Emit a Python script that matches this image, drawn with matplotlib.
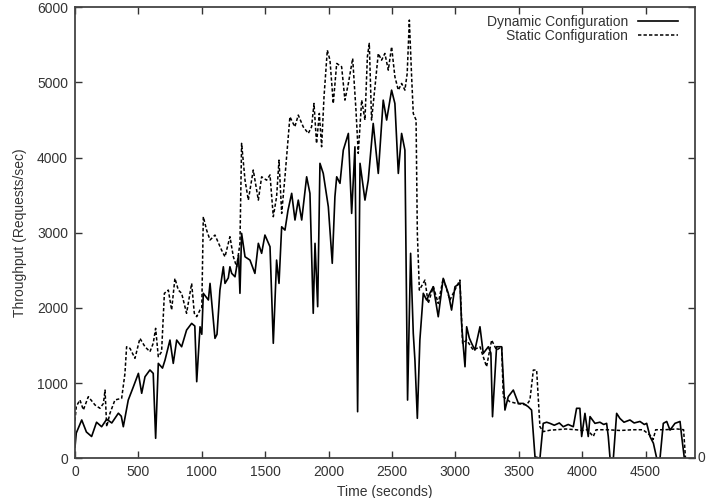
import matplotlib
matplotlib.use('Agg')
from matplotlib import pyplot as plt

plt.rcParams['font.family'] = ['Liberation Sans', 'DejaVu Sans']

# dynamic configuration (time s, requests/sec)
dyn_t = [0, 10, 53, 90, 131, 170, 210, 250, 290, 342, 365, 381, 420, 460, 500, 526, 552,
         591, 617, 636, 657, 690, 710, 749, 775, 802, 841, 880, 920, 945, 960, 986, 1000,
         1012, 1052, 1065, 1104, 1120, 1143, 1170, 1183, 1209, 1222, 1236, 1262, 1290, 1301,
         1314, 1341, 1380, 1419, 1446, 1472, 1498, 1538, 1564, 1590, 1609, 1630, 1656, 1680,
         1709, 1735, 1761, 1788, 1827, 1853, 1879, 1893, 1914, 1932, 1958, 1998, 2029, 2050,
         2064, 2090, 2116, 2156, 2182, 2208, 2229, 2248, 2287, 2313, 2352, 2392, 2431, 2458,
         2497, 2523, 2550, 2576, 2602, 2623, 2647, 2668, 2681, 2700, 2720, 2747, 2773, 2800,
         2826, 2865, 2904, 2944, 2970, 2997, 3036, 3049, 3062, 3076, 3089, 3110, 3128, 3154,
         3194, 3220, 3260, 3280, 3293, 3325, 3365, 3391, 3417, 3457, 3497, 3536, 3575, 3601,
         3628, 3667, 3693, 3720, 3746, 3780, 3820, 3851, 3890, 3930, 3956, 3982, 3996, 4022,
         4048, 4062, 4101, 4140, 4170, 4193, 4206, 4220, 4246, 4272, 4298, 4330, 4377, 4410,
         4456, 4490, 4509, 4535, 4562, 4588, 4614, 4640, 4667, 4693, 4732, 4772, 4785, 4806]
dyn_v = [150, 336, 510, 350, 290, 480, 420, 520, 470, 600, 560, 420, 775, 950, 1130, 865, 1085,
         1175, 1130, 266, 1263, 1200, 1307, 1573, 1263, 1573, 1484, 1706, 1795, 1760, 1019, 1750, 1650,
         2195, 2106, 2327, 1596, 1650, 2238, 2548, 2327, 2400, 2548, 2460, 2415, 2700, 2195,
         2993, 2681, 2637, 2460, 2860, 2727, 2970, 2815, 1530, 2637, 2327, 3080, 3036, 3300,
         3525, 3170, 3435, 3170, 3745, 3525, 1929, 2860, 2017, 3924, 3790, 3346, 2594, 3480,
         3745, 3658, 4100, 4322, 3258, 4144, 620, 3924, 3435, 3700, 4455, 3790, 4765, 4500,
         4898, 4720, 3790, 4322, 4100, 775, 2727, 1662, 1307, 532, 1573, 2195, 2106, 2200,
         2283, 1883, 2394, 2195, 1972, 2283, 2327, 1796, 1500, 1218, 1750, 1600, 1530, 1440,
         1750, 1396, 1484, 1400, 553, 1484, 1484, 642, 820, 908, 730, 730, 686, 642,
         20, 0, 465, 480, 465, 440, 470, 420, 450, 420, 665, 665, 290, 598,
         290, 555, 465, 480, 450, 465, 290, 0, 0, 598, 530, 480, 510, 470,
         490, 450, 465, 290, 200, 0, 0, 465, 490, 375, 465, 490, 290, 0]

# static configuration
sta_t = [0, 10, 39, 66, 105, 158, 197, 224, 237, 250, 276, 315, 368, 394, 407, 434, 473,
         512, 552, 591, 617, 636, 657, 683, 705, 736, 762, 788, 815, 841, 880, 920, 941,
         960, 986, 1000, 1012, 1038, 1065, 1104, 1156, 1183, 1222, 1249, 1275, 1301, 1314,
         1341, 1367, 1406, 1446, 1472, 1511, 1538, 1564, 1590, 1609, 1630, 1656, 1695, 1734,
         1761, 1800, 1840, 1866, 1885, 1905, 1927, 1945, 1964, 1990, 2011, 2037, 2064, 2103,
         2129, 2156, 2190, 2216, 2234, 2261, 2287, 2306, 2321, 2339, 2366, 2392, 2418, 2444,
         2471, 2497, 2523, 2550, 2576, 2602, 2620, 2637, 2655, 2668, 2690, 2700, 2716, 2760,
         2786, 2826, 2865, 2904, 2957, 3009, 3036, 3057, 3089, 3141, 3194, 3246, 3286, 3325,
         3365, 3378, 3430, 3483, 3562, 3588, 3615, 3641, 3667, 3693, 3750, 3800, 3870, 3950,
         4000, 4040, 4088, 4110, 4200, 4300, 4400, 4480, 4540, 4560, 4580, 4650, 4750, 4800,
         4815]
sta_v = [500, 690, 776, 643, 820, 709, 665, 730, 908, 420, 600, 776, 798, 1130, 1484, 1462, 1330,
         1596, 1484, 1418, 1530, 1729, 1352, 1418, 2195, 2238, 1973, 2394, 2238, 2195, 1929, 2327, 1929,
         1884, 1973, 2000, 3214, 3036, 2904, 2970, 2770, 2681, 2948, 2681, 2547, 2860, 4190,
         3700, 3435, 3835, 3435, 3745, 3700, 3770, 3214, 3480, 3967, 3258, 3745, 4543, 4410,
         4566, 4410, 4322, 4410, 4721, 4189, 4588, 4145, 4810, 5430, 5297, 4720, 5253, 5209,
         4765, 4987, 5320, 4632, 4057, 4765, 4500, 5342, 5520, 4500, 4942, 5386, 5297, 5386,
         5164, 5475, 5076, 4898, 4987, 4898, 5120, 5830, 5076, 4588, 4500, 3000, 2238, 2371,
         2060, 2283, 2060, 2394, 2106, 2283, 2371, 1530, 1573, 1440, 1484, 1218, 1573, 1440,
         1484, 820, 753, 730, 710, 775, 1174, 1174, 420, 355, 375, 380, 390, 380,
         370, 380, 290, 380, 380, 370, 380, 380, 300, 250, 380, 380, 390, 380,
         0]

yticks = [0, 1000, 2000, 3000, 4000, 5000, 6000]
xticks = [0, 500, 1000, 1500, 2000, 2500, 3000, 3500, 4000, 4500]

fig = plt.figure(figsize=(7.06, 4.98), dpi=100)
ax = fig.add_axes([75 / 706, 1 - 458.3 / 498, 620 / 706, 451 / 498])

ax.plot(dyn_t, dyn_v, color='black', lw=1.2, label='Dynamic Configuration')
ax.plot(sta_t, sta_v, color='black', lw=1.1, dashes=(2.2, 1.4), label='Static Configuration')

ax.set_xlim(0, 4890)
ax.set_ylim(0, 6000)
ax.set_xticks(xticks)
ax.set_yticks(yticks)
ax.tick_params(direction='in', length=5, width=1, top=True, right=True,
               labelsize=10, colors='#333333', pad=5)
for s in ax.spines.values():
    s.set_linewidth(1.3)
    s.set_color('#444444')

ax.set_xlabel('Time (seconds)', fontsize=10, color='#333333', labelpad=4)
ax.set_ylabel('Throughput (Requests/sec)', fontsize=10, color='#333333', labelpad=7)

leg = ax.legend(loc='upper right', frameon=False, markerfirst=False, fontsize=10,
                handlelength=2.9, handletextpad=0.7, labelspacing=0.05,
                bbox_to_anchor=(0.9726, 0.984), borderaxespad=0, borderpad=0)
for t in leg.get_texts():
    t.set_color('#333333')

fig.text(697 / 706, 1 - 458 / 498, '0', fontsize=10, color='#333333', ha='left', va='center')

fig.savefig('out.png', dpi=100)
